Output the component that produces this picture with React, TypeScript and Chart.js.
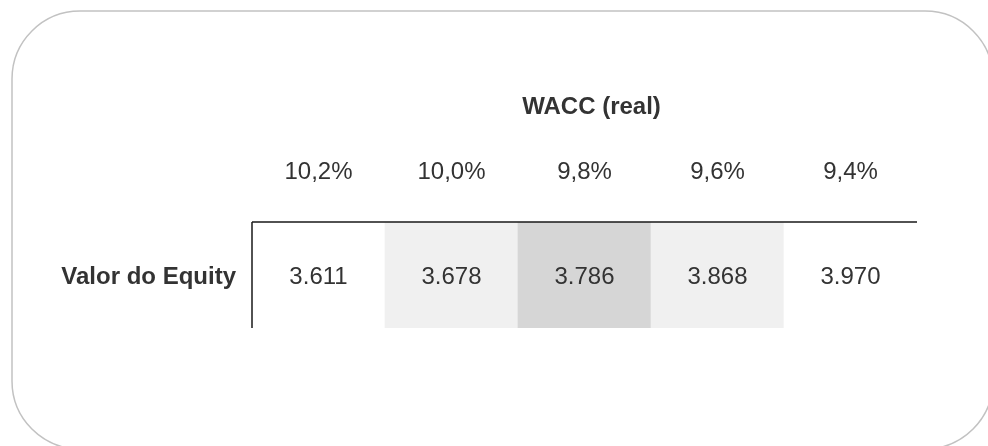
import React, { useEffect, useRef } from "react";
import { Chart, registerables } from "chart.js";

Chart.register(...registerables);

const waccLabels = ["10,2%", "10,0%", "9,8%", "9,6%", "9,4%"];
const equityValues = [3.611, 3.678, 3.786, 3.868, 3.970];
const cellShades = ["#ffffff", "#f0f0f0", "#d6d6d6", "#f0f0f0", "#ffffff"];
const titleText = "WACC (real)";
const rowLabel = "Valor do Equity";

const fmt = (v: number) => v.toFixed(3);

const FONT = "'Liberation Sans', Arial, sans-serif";
const TEXT = "#333333";

const tablePlugin = {
  id: "tablePlugin",
  beforeDraw(chart: any) {
    const ctx = chart.ctx;
    ctx.save();
    ctx.fillStyle = "#ffffff";
    ctx.fillRect(0, 0, chart.width, chart.height);
    ctx.strokeStyle = "#c2c2c2";
    ctx.lineWidth = 1.5;
    ctx.beginPath();
    (ctx as any).roundRect(12, 11, 981, 438, 68);
    ctx.stroke();
    ctx.restore();
  },
  afterDatasetsDraw(chart: any) {
    const ctx = chart.ctx;
    const xs = chart.scales.x;
    const ys = chart.scales.y;
    const area = chart.chartArea;
    ctx.save();
    // lines
    ctx.strokeStyle = "#1a1a1a";
    ctx.lineWidth = 1.5;
    ctx.beginPath();
    ctx.moveTo(area.left, area.top);
    ctx.lineTo(area.right, area.top);
    ctx.moveTo(area.left, area.top);
    ctx.lineTo(area.left, area.bottom);
    ctx.stroke();

    ctx.fillStyle = TEXT;
    ctx.textBaseline = "middle";
    ctx.textAlign = "center";
    ctx.font = `24px ${FONT}`;
    const midY = ys.getPixelForValue(0.5);
    equityValues.forEach((v, i) => {
      const x = xs.getPixelForValue(i);
      ctx.fillText(fmt(v), x, midY + 2);
      ctx.fillText(waccLabels[i], x, area.top - 50);
    });
    ctx.font = `bold 24px ${FONT}`;
    ctx.fillText(titleText, (area.left + area.right) / 2 + 7, area.top - 115);
    ctx.textAlign = "right";
    ctx.fillText(rowLabel, area.left - 16, midY + 2);
    ctx.restore();
  },
};

export default function App() {
  const ref = useRef<HTMLCanvasElement | null>(null);
  useEffect(() => {
    if (!ref.current) return;
    const chart = new Chart(ref.current, {
      type: "bar",
      data: {
        labels: waccLabels,
        datasets: [
          {
            data: equityValues.map(() => 1),
            backgroundColor: cellShades,
            borderWidth: 0,
            barPercentage: 1,
            categoryPercentage: 1,
          },
        ],
      },
      options: {
        responsive: false,
        animation: false,
        devicePixelRatio: 1,
        layout: { padding: { left: 252, right: 71, top: 222, bottom: 118 } },
        plugins: { legend: { display: false }, tooltip: { enabled: false } },
        scales: {
          x: { display: false },
          y: { display: false, min: 0, max: 1 },
        },
      },
      plugins: [tablePlugin],
    });
    return () => chart.destroy();
  }, []);
  return (
    <canvas
      ref={ref}
      width={988}
      height={446}
      style={{ position: "fixed", left: 0, top: 0, width: 988, height: 446 }}
    />
  );
}
